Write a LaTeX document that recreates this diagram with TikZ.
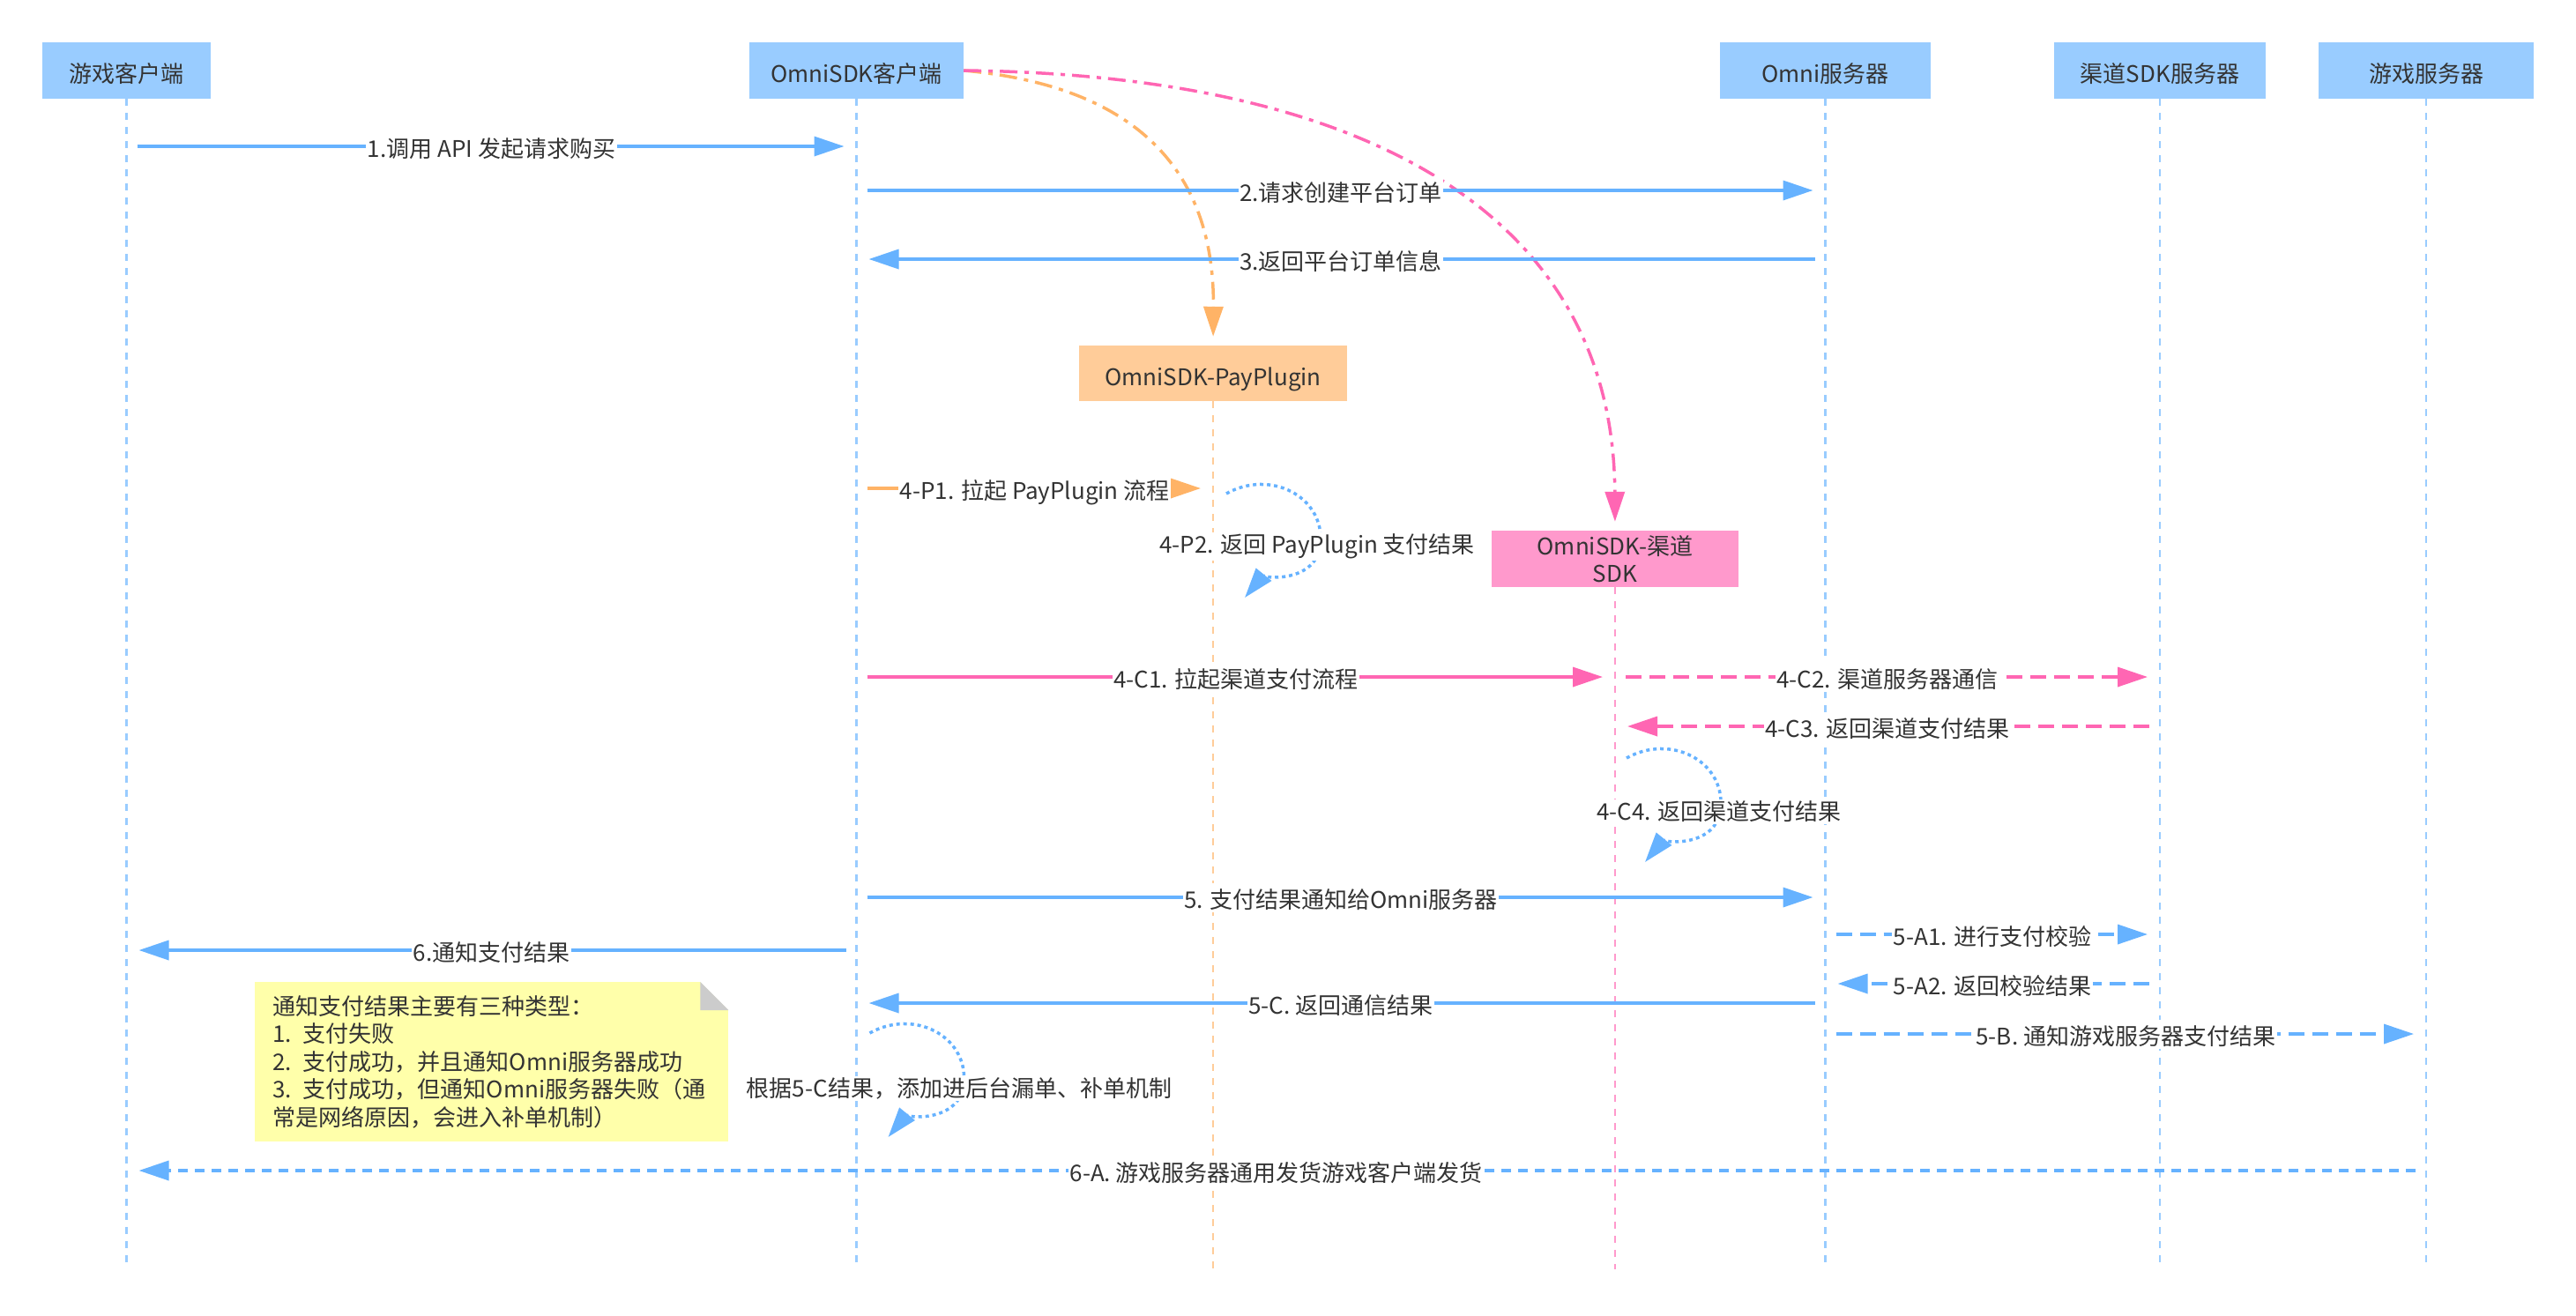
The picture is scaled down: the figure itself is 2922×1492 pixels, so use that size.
\documentclass[tikz,border=0pt]{standalone}
\usepackage{fontspec}
\setmainfont{Noto Sans CJK SC}
\usepackage{tikz}
\usetikzlibrary{arrows.meta, calc}
\definecolor{actorblue}{HTML}{99CCFF}
\definecolor{msgblue}{HTML}{66B2FF}
\definecolor{plugfill}{HTML}{FFCC99}
\definecolor{plugline}{HTML}{FFB366}
\definecolor{chanfill}{HTML}{FF99CC}
\definecolor{chanline}{HTML}{FF66B3}
\definecolor{notefill}{HTML}{FFFFAA}
\definecolor{foldgrey}{HTML}{CCCCCC}
\definecolor{inkgrey}{HTML}{333333}
\newcommand\seqfont{\fontsize{26}{31.5}\selectfont}

\begin{document}
\begin{tikzpicture}[x=1pt, y=-1pt,
  actor/.style={rectangle, fill=actorblue, minimum width=240pt,
                minimum height=64pt, inner sep=0pt, font=\seqfont, text=inkgrey,
                text height=30pt, text depth=3pt},
  life/.style={draw=#1, line width=2.5pt, dash pattern=on 8pt off 8pt},
  tip/.style={-{Triangle[length=34pt,width=22pt]}},
  msg/.style={tip, draw=msgblue, line width=3.5pt, shorten <=12pt, shorten >=14pt},
  dmsg/.style={msg, dash pattern=on 18pt off 9pt},
  lbl/.style={midway, fill=white, text=inkgrey, font=\seqfont, inner sep=1.5pt,
              text height=27pt, text depth=3pt},
  txt/.style={text=inkgrey, font=\seqfont, inner sep=1.5pt},
  selfloop/.style={tip, draw=msgblue, line width=3.5pt, dash pattern=on 4pt off 4pt},
  selfcall/.pic={\draw[selfloop] (0,0) .. controls +(50,-28) and +(3,-52) .. (107,55)
                   .. controls +(-3,48) and +(18,-22) .. (21,118);},
  note/.style={fill=notefill, text=inkgrey, font=\seqfont, align=left,
               text width=497pt, minimum height=181pt, inner xsep=20pt, inner ysep=0pt}
]
  \useasboundingbox (0,0) rectangle (2922,1492);

  % participants
  \node[actor, minimum width=191pt] (gc) at (143.5,80) {游戏客户端};
  \node[actor, minimum width=243pt] (sdk) at (971.5,80) {OmniSDK客户端};
  \node[actor, minimum width=239pt] (omni) at (2070.5,80) {Omni服务器};
  \node[actor] (chs) at (2450,80) {渠道SDK服务器};
  \node[actor, minimum width=244pt] (gs) at (2752,80) {游戏服务器};
  \node[actor, fill=plugfill, minimum width=304pt, minimum height=63pt] (pp) at (1376,423.5) {OmniSDK-PayPlugin};
  \node[actor, fill=chanfill, minimum width=280pt, align=center, text height=, text depth=] (ch) at (1832,634) {OmniSDK-渠道\\SDK};

  % lifelines
  \foreach \p in {gc, sdk, omni, chs, gs}
    \draw[life=actorblue] (\p.south) -- (\p |- 0,1440);
  \draw[life=plugfill] (pp.south) -- (pp |- 0,1440);
  \draw[life=chanfill] (ch.south) -- (ch |- 0,1440);

  % plugin / channel start
  \draw[tip, draw=plugline, line width=3.5pt, dash pattern=on 20pt off 8pt on 5pt off 8pt, shorten >=10pt]
    (sdk.east) .. controls (1260,95) and (1378,170) .. (pp.north);
  \draw[tip, draw=chanline, line width=3.5pt, dash pattern=on 20pt off 8pt on 5pt off 8pt, shorten >=10pt]
    (sdk.east) .. controls (1560,85) and (1830,250) .. (ch.north);

  % messages
  \draw[msg] (gc |- 0,166) -- node[lbl] {1.调用 API 发起请求购买} (sdk |- 0,166);
  \draw[msg] (sdk |- 0,216) -- node[lbl] {2.请求创建平台订单} (omni |- 0,216);
  \draw[msg] (omni |- 0,294) -- node[lbl] {3.返回平台订单信息} (sdk |- 0,294);
  \draw[msg, draw=plugline] (sdk |- 0,554) -- node[lbl] {4-P1. 拉起 PayPlugin 流程} (pp |- 0,554);
  \pic at ($(pp |- 0,560)+(15,0)$) {selfcall};
  \node[txt, fill=white] (p2) at (1494,620) {4-P2. 返回 PayPlugin 支付结果};
  \draw[msg, draw=chanline] (sdk |- 0,768) -- node[lbl] {4-C1. 拉起渠道支付流程} (ch |- 0,768);
  \draw[dmsg, draw=chanline] (ch |- 0,768) -- node[lbl] {4-C2. 渠道服务器通信} (chs |- 0,768);
  \draw[dmsg, draw=chanline] (chs |- 0,824) -- node[lbl] {4-C3. 返回渠道支付结果} (ch |- 0,824);
  \pic at ($(ch |- 0,860)+(13,0)$) {selfcall};
  \node[txt, fill=white] (c4) at (1950,921) {4-C4. 返回渠道支付结果};
  \draw[msg] (sdk |- 0,1018) -- node[lbl] {5. 支付结果通知给Omni服务器} (omni |- 0,1018);
  \draw[dmsg] (omni |- 0,1060) -- node[lbl] {5-A1. 进行支付校验} (chs |- 0,1060);
  \draw[msg] (sdk |- 0,1078) -- node[lbl] {6.通知支付结果} (gc |- 0,1078);
  \draw[dmsg] (chs |- 0,1116) -- node[lbl] {5-A2. 返回校验结果} (omni |- 0,1116);
  \draw[msg] (omni |- 0,1138) -- node[lbl] {5-C. 返回通信结果} (sdk |- 0,1138);
  \draw[dmsg] (omni |- 0,1173) -- node[lbl] {5-B. 通知游戏服务器支付结果} (gs |- 0,1173);
  \pic at ($(sdk |- 0,1172)+(15,0)$) {selfcall};
  \node[txt, fill=white] (fix) at (1088,1235) {根据5-C结果，添加进后台漏单、补单机制};
  \draw[msg, dash pattern=on 11pt off 8pt] (gs |- 0,1328) -- node[lbl] {6-A. 游戏服务器通用发货游戏客户端发货} (gc |- 0,1328);

  % note
  \node[note, anchor=north west] (memo) at (289,1114)
    {通知支付结果主要有三种类型：\\1. 支付失败\\2. 支付成功，并且通知Omni服务器成功\\3. 支付成功，但通知Omni服务器失败（通\\常是网络原因，会进入补单机制）};
  \fill[white] ([xshift=-32pt]memo.north east) -- (memo.north east) -- ([yshift=-32pt]memo.north east) -- cycle;
  \fill[foldgrey] ([xshift=-32pt]memo.north east) -- ([yshift=-32pt]memo.north east)
    -- ([xshift=-32pt,yshift=-32pt]memo.north east) -- cycle;
\end{tikzpicture}
\end{document}
